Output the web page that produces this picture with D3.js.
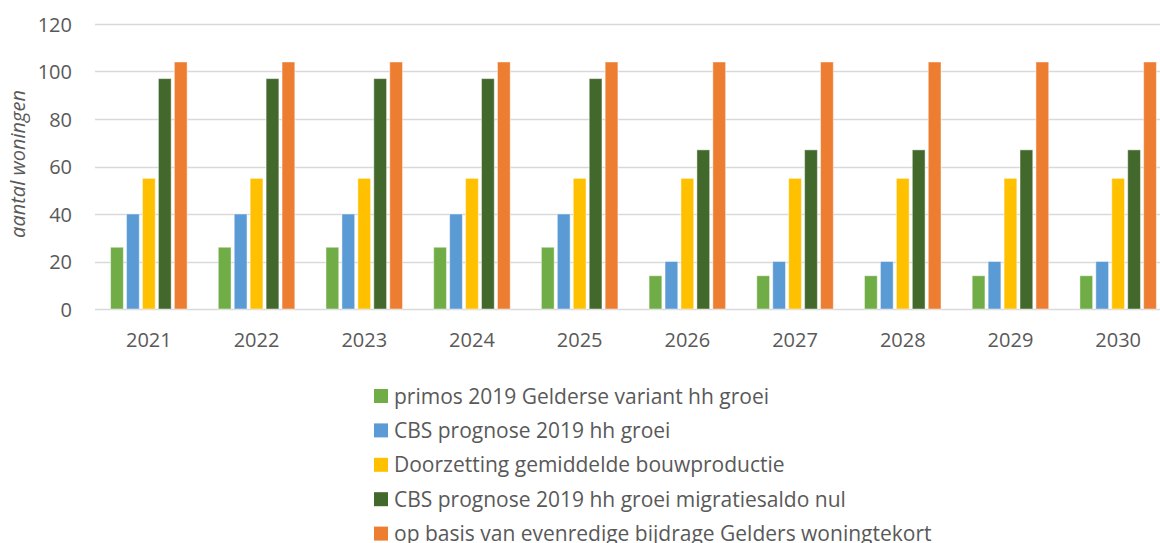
<!DOCTYPE html>
<html>
<head>
<meta charset="utf-8">
<script src="https://cdn.jsdelivr.net/npm/d3@7"></script>
<style>
  body { margin: 0; background: #fff; }
  text { font-family: "Open Sans", sans-serif; fill: #595959; }
</style>
</head>
<body>
<div id="chart"></div>
<script>
// years on the x axis
var years = ["2021", "2022", "2023", "2024", "2025", "2026", "2027", "2028", "2029", "2030"];

var seriesNames = [
    "primos 2019 Gelderse variant hh groei",
    "CBS prognose 2019 hh groei",
    "Doorzetting gemiddelde bouwproductie",
    "CBS prognose 2019 hh groei migratiesaldo nul",
    "op basis van evenredige bijdrage Gelders woningtekort"
];
var seriesColors = ["#70ad47", "#5b9bd5", "#ffc000", "#43682b", "#ed7d31"];

var primos = [26, 26, 26, 26, 26, 14, 14, 14, 14, 14];
var cbsGroei = [40, 40, 40, 40, 40, 20, 20, 20, 20, 20];
var bouwproductie = [55, 55, 55, 55, 55, 55, 55, 55, 55, 55];
var cbsMigratieNul = [97, 97, 97, 97, 97, 67, 67, 67, 67, 67];
var woningtekort = [104, 104, 104, 104, 104, 104, 104, 104, 104, 104];

var yTicks = [0, 20, 40, 60, 80, 100, 120];

var seriesValues = [primos, cbsGroei, bouwproductie, cbsMigratieNul, woningtekort];

var width = 1160;
var height = 543;

var svg = d3.select("#chart")
    .append("svg")
    .attr("width", width)
    .attr("height", height);

var x = d3.scaleBand()
    .domain(years)
    .range([95, 1172])
    .paddingInner(0)
    .paddingOuter(0);

var xInner = d3.scaleBand()
    .domain(d3.range(seriesNames.length))
    .range([14, x.bandwidth() - 14])
    .paddingInner(0.2)
    .paddingOuter(0.1);

var y = d3.scaleLinear()
    .domain([0, 120])
    .range([309, 24]);

// gridlines
svg.append("g")
    .selectAll("line")
    .data(yTicks)
    .enter()
    .append("line")
    .attr("x1", 95)
    .attr("x2", width)
    .attr("y1", function (d) { return Math.round(y(d)) + 0.5; })
    .attr("y2", function (d) { return Math.round(y(d)) + 0.5; })
    .attr("stroke", "#d9d9d9")
    .attr("stroke-width", 1.3);

// y labels
var yAxis = d3.axisLeft(y).tickValues(yTicks).tickSize(0).tickPadding(0);
var yg = svg.append("g")
    .attr("transform", "translate(72,0)")
    .call(yAxis);
yg.select(".domain").remove();
yg.selectAll("text")
    .style("font-size", "20px")
    .attr("dy", "0.36em");

// bars
var groups = svg.append("g")
    .selectAll("g")
    .data(seriesValues)
    .enter()
    .append("g")
    .attr("fill", function (d, i) { return seriesColors[i]; });

groups.each(function (vals, si) {
    d3.select(this).selectAll("rect")
        .data(vals)
        .enter()
        .append("rect")
        .attr("x", function (d, i) { return x(years[i]) + xInner(si); })
        .attr("width", xInner.bandwidth())
        .attr("y", function (d) { return y(d); })
        .attr("height", function (d) { return y(0) - y(d); })
        .attr("stroke", "#ffffff")
        .attr("stroke-opacity", 0.45)
        .attr("stroke-width", 1);
});

// x labels
var xAxis = d3.axisBottom(x).tickSize(0).tickPadding(0);
var xg = svg.append("g")
    .attr("transform", "translate(0,333)")
    .call(xAxis);
xg.select(".domain").remove();
xg.selectAll("text")
    .style("font-size", "20px")
    .attr("dy", "0.72em");

// y title
svg.append("text")
    .attr("transform", "translate(25,164) rotate(-90)")
    .attr("text-anchor", "middle")
    .style("font-size", "20px")
    .style("font-style", "italic")
    .text("aantal woningen");

// legend
var legend = svg.append("g")
    .selectAll("g")
    .data(seriesNames)
    .enter()
    .append("g")
    .attr("transform", function (d, i) { return "translate(374," + (396 + i * 34.4) + ")"; });

legend.append("rect")
    .attr("x", 0)
    .attr("y", -7)
    .attr("width", 14)
    .attr("height", 14)
    .attr("fill", function (d, i) { return seriesColors[i]; });

legend.append("text")
    .attr("x", 20)
    .attr("dy", "0.36em")
    .style("font-size", "21px")
    .text(function (d) { return d; });
</script>
</body>
</html>
